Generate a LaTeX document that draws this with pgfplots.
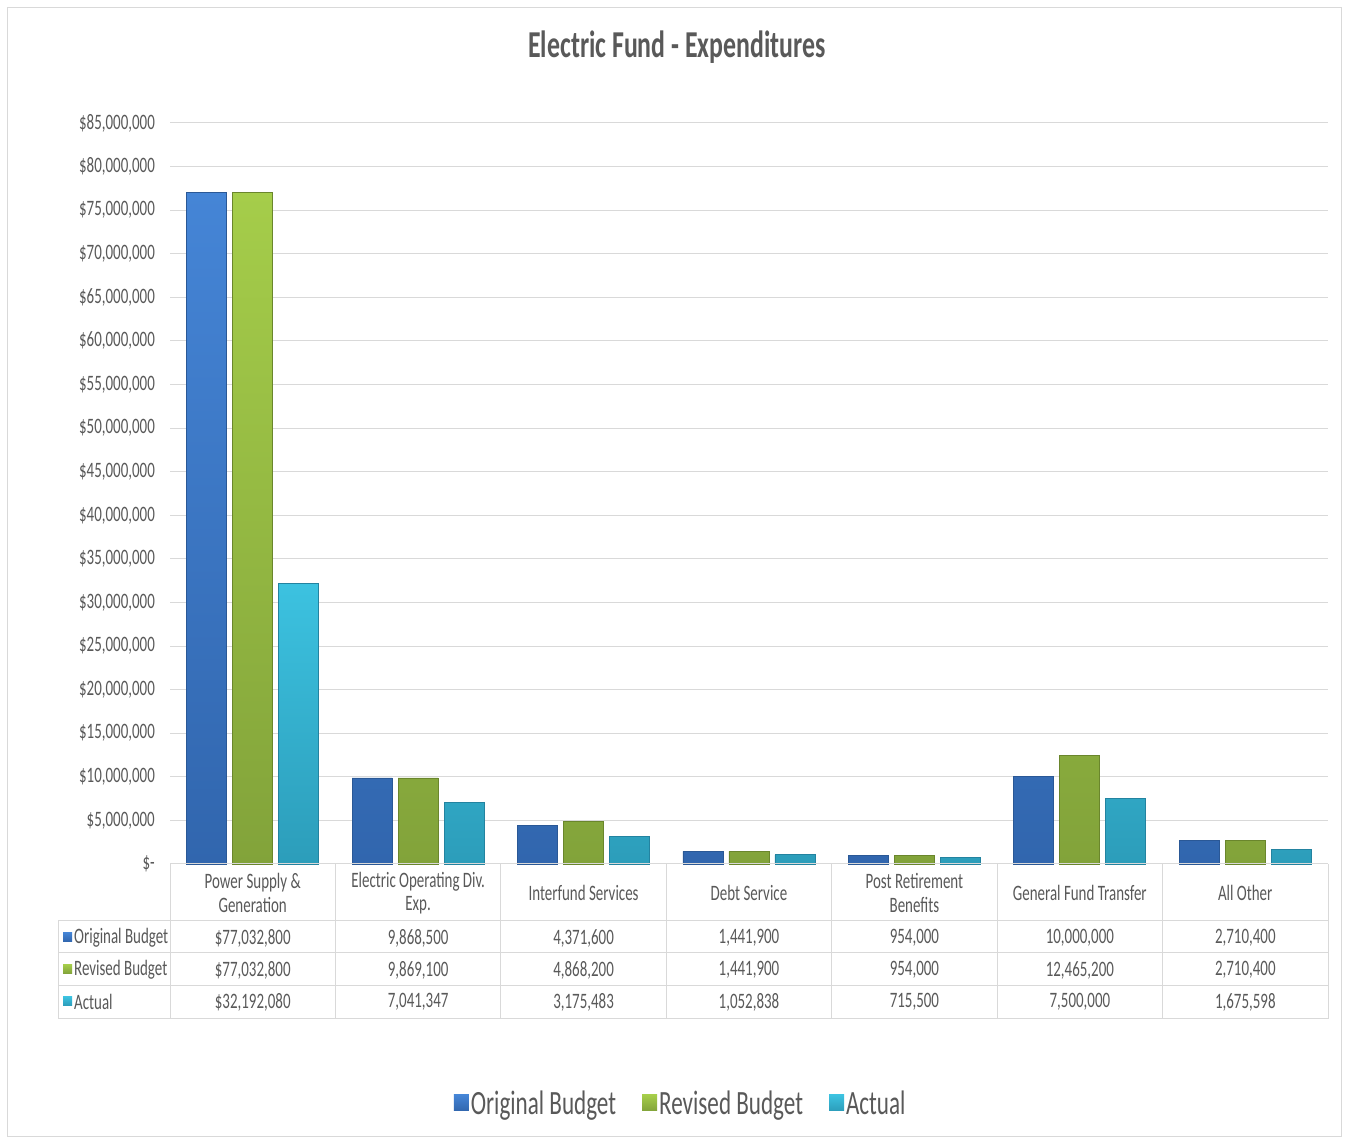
\documentclass[border=0pt]{standalone}
\usepackage{fontspec}
\setmainfont{Carlito}[FakeStretch=0.68]
\usepackage{pgfplots}
\pgfplotsset{compat=1.18}

\definecolor{txt}{HTML}{595959}
\definecolor{gridc}{HTML}{D9D9D9}
\definecolor{blueT}{HTML}{4585D6}
\definecolor{blueB}{HTML}{3166AE}
\definecolor{blueD}{HTML}{2A5896}
\definecolor{greenT}{HTML}{A5CD4A}
\definecolor{greenB}{HTML}{82A33A}
\definecolor{greenD}{HTML}{6A862C}
\definecolor{cyanT}{HTML}{3CC2E0}
\definecolor{cyanB}{HTML}{2C9DBA}
\definecolor{cyanD}{HTML}{2383A0}

\newcommand{\tf}{\fontsize{22}{23.5}\selectfont}

\begin{document}
\begin{tikzpicture}[x=1pt,y=1pt]
\useasboundingbox (0,0) rectangle (1348,1139);
\fill[white] (0,0) rectangle (1348,1139);
\draw[gridc, line width=1pt] (7,2) rectangle (1341,1131);

\node[font=\fontsize{38}{41}\selectfont\bfseries, text=txt] at (677,1092) {Electric Fund - Expenditures};

\begin{axis}[
  at={(170pt,275pt)}, anchor=south west,
  scale only axis, width=1158pt, height=741pt,
  xmin=-0.5, xmax=6.5, ymin=0, ymax=85000000,
  scaled y ticks=false,
  ybar=6pt, bar width=40pt,
  axis line style={draw=none},
  major tick length=0pt,
  ymajorgrids, grid style={draw=gridc, line width=1pt},
  ytick={0,5000000,10000000,15000000,20000000,25000000,30000000,35000000,40000000,45000000,50000000,55000000,60000000,65000000,70000000,75000000,80000000,85000000},
  yticklabels={{\$-\hspace{2pt}},{\$5,000,000},{\$10,000,000},{\$15,000,000},{\$20,000,000},{\$25,000,000},{\$30,000,000},{\$35,000,000},{\$40,000,000},{\$45,000,000},{\$50,000,000},{\$55,000,000},{\$60,000,000},{\$65,000,000},{\$70,000,000},{\$75,000,000},{\$80,000,000},{\$85,000,000}},
  yticklabel style={font=\tf, text=txt, inner sep=0pt},
  yticklabel shift=15pt,
  xtick={0,1,2,3,4,5,6},
  xticklabels={{Power Supply \&\\Generation},{Electric Operating Div.\\Exp.},{Interfund Services},{Debt Service},{Post Retirement\\Benefits},{General Fund Transfer},{All Other}},
  xticklabel style={font=\tf, text=txt, align=center, anchor=center, yshift=-29pt},
  legend style={at={(0.441,-0.3225)}, anchor=center, draw=none, fill=none,
    legend columns=-1, font=\fontsize{34}{37}\selectfont, text=txt,
    /tikz/every even column/.append style={column sep=24pt}},
  legend image code/.code={\path[#1, draw=none] (0pt,-8pt) rectangle (15pt,8pt);},
  clip=false,
]
\addplot[top color=blueT, bottom color=blueB, draw=blueD, line width=0.8pt]
  coordinates {(0,77032800) (1,9868500) (2,4371600) (3,1441900) (4,954000) (5,10000000) (6,2710400)};
\addplot[top color=greenT, bottom color=greenB, draw=greenD, line width=0.8pt]
  coordinates {(0,77032800) (1,9869100) (2,4868200) (3,1441900) (4,954000) (5,12465200) (6,2710400)};
\addplot[top color=cyanT, bottom color=cyanB, draw=cyanD, line width=0.8pt]
  coordinates {(0,32192080) (1,7041347) (2,3175483) (3,1052838) (4,715500) (5,7500000) (6,1675598)};
\legend{Original Budget, Revised Budget, Actual}
\end{axis}

% data table
\begin{scope}[gridc, line width=1pt]
\draw (170,275) -- (1328,275);
\foreach \y in {218,186,153,120} \draw (58,\y) -- (1328,\y);
\foreach \i in {0,...,7} \draw ({170+\i*165.4286},275) -- ({170+\i*165.4286},120);
\draw (58,218) -- (58,120);
\end{scope}

\path[top color=blueT, bottom color=blueB] (63,197.5) rectangle (72,206.5);
\path[top color=greenT, bottom color=greenB] (63,165.5) rectangle (72,174.5);
\path[top color=cyanT, bottom color=cyanB] (63,133.5) rectangle (72,142.5);
\node[font=\tf, text=txt, anchor=west, inner sep=0pt] at (74,201) {Original Budget};
\node[font=\tf, text=txt, anchor=west, inner sep=0pt] at (74,169) {Revised Budget};
\node[font=\tf, text=txt, anchor=west, inner sep=0pt] at (74,137) {Actual};

\foreach \v [count=\i from 0] in {{\$77,032,800}, {9,868,500}, {4,371,600}, {1,441,900}, {954,000}, {10,000,000}, {2,710,400}}
  \node[font=\tf, text=txt] at ({170+(\i+0.5)*165.4286},201) {\v};
\foreach \v [count=\i from 0] in {{\$77,032,800}, {9,869,100}, {4,868,200}, {1,441,900}, {954,000}, {12,465,200}, {2,710,400}}
  \node[font=\tf, text=txt] at ({170+(\i+0.5)*165.4286},169) {\v};
\foreach \v [count=\i from 0] in {{\$32,192,080}, {7,041,347}, {3,175,483}, {1,052,838}, {715,500}, {7,500,000}, {1,675,598}}
  \node[font=\tf, text=txt] at ({170+(\i+0.5)*165.4286},137) {\v};
\end{tikzpicture}
\end{document}
